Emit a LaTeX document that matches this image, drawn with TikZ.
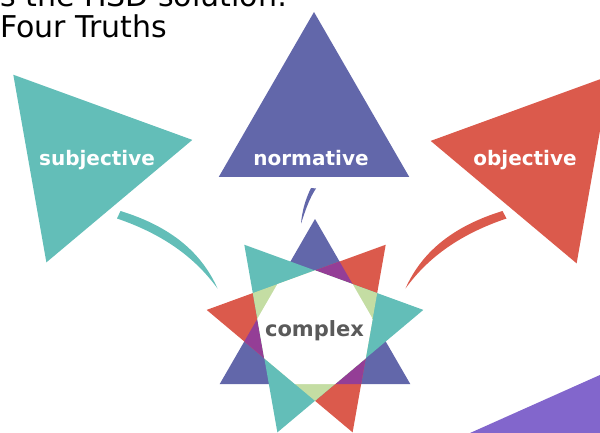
\documentclass[tikz,border=0pt]{standalone}
\usepackage{fontspec}
\setmainfont{DejaVu Sans}
\definecolor{tealT}{RGB}{99,190,184}
\definecolor{blueT}{RGB}{98,103,170}
\definecolor{redT}{RGB}{219,90,76}
\definecolor{purpleT}{RGB}{148,62,150}
\definecolor{greenT}{RGB}{196,221,163}
\definecolor{violetT}{RGB}{130,102,204}
\definecolor{greyT}{RGB}{90,90,90}
\tikzset{
  truth/.style={text=white,font=\bfseries\fontsize{20}{24}\selectfont,inner sep=0,anchor=base},
  headline/.style={font=\fontsize{30}{32}\selectfont,inner sep=0,anchor=base west}
}
\newcommand{\tri}{(-90:\R) -- (30:\R) -- (150:\R) -- cycle}
\begin{document}
\begin{tikzpicture}[x=1pt,y=-1pt]
\pgfmathsetmacro{\R}{110}
\useasboundingbox (0,0) rectangle (600,433);
\clip (0,0) rectangle (600,433);
% heading
\node[headline] (head) at (0,6.5) {s the HSD solution:};
\node[headline] (title) at (0,37.5) {Four Truths};
% the three truths
\fill[tealT,shift={(84,159)},rotate=40] \tri;
\fill[blueT,shift={(314,122)}] \tri;
\fill[redT,shift={(539,160)},rotate=-40] \tri;
\node[truth] (subj) at (97,165) {subjective};
\node[truth] (norm) at (311,165) {normative};
\node[truth] (obj) at (525,165) {objective};
% arcs
\fill[tealT] (120.5,211) .. controls (166,225) and (200,249) .. (217.5,288.5)
  .. controls (194,256) and (161,233.5) .. (117,218.5) -- cycle;
\fill[blueT] (311,188) .. controls (305,200) and (302,212) .. (301,223.5)
  .. controls (305.5,210) and (309.5,198) .. (316,188.5) -- cycle;
\fill[redT] (502.5,211) .. controls (457,225) and (423,249) .. (405.5,288.5)
  .. controls (429,256) and (462,233.5) .. (506.5,218.5) -- cycle;
% complex star
\begin{scope}[shift={(315,329)}]
\fill[blueT] \tri;
\fill[redT,rotate=-40] \tri;
\begin{scope}
\clip[rotate=-40] \tri;
\fill[purpleT] \tri;
\end{scope}
\fill[tealT,rotate=40] \tri;
\begin{scope}
\clip[rotate=40] \tri;
\fill[greenT,rotate=-40] \tri;
\clip[rotate=-40] \tri;
\fill[white] \tri;
\end{scope}
\end{scope}
\node[truth,text=greyT,font=\bfseries\fontsize{21}{24}\selectfont] (cplx) at (314.5,336) {complex};
% corner
\fill[violetT] (463.3,436) -- (610,370.5) -- (610,436) -- cycle;
\end{tikzpicture}
\end{document}
